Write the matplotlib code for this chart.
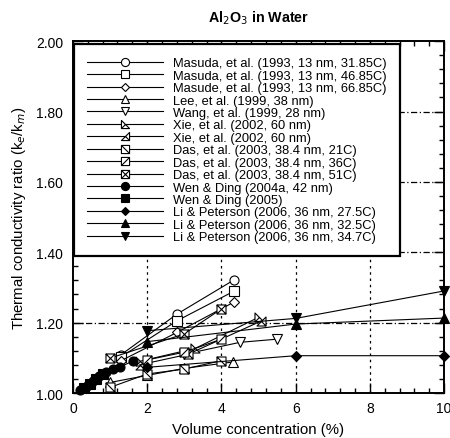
import matplotlib
matplotlib.use("Agg")
import matplotlib.pyplot as plt
from matplotlib.path import Path
from matplotlib.ticker import MultipleLocator, FormatStrFormatter

plt.rcParams['font.family'] = ['Liberation Sans', 'DejaVu Sans']

# data: volume concentration (%) -> k_e/k_m
#
masuda_x = [1.3, 2.8, 4.35]
masuda_32_y = [1.109, 1.224, 1.322]
masuda_47_y = [1.103, 1.205, 1.290]
masuda_67_y = [1.092, 1.172, 1.259]

lee_x = [1.0, 2.0, 3.0, 4.3]
lee_y = [1.030, 1.050, 1.070, 1.088]

wang_x = [3.0, 4.5, 5.5]
wang_y = [1.110, 1.144, 1.153]

xie1_x = [1.8, 3.3, 5.0]
xie1_y = [1.090, 1.127, 1.215]
xie2_x = [1.8, 3.1, 5.08]
xie2_y = [1.080, 1.110, 1.205]

das21_x = [1.0, 2.0, 3.0, 4.0]
das21_y = [1.016, 1.054, 1.068, 1.092]
das36_x = [2.0, 3.0, 4.0]
das36_y = [1.094, 1.116, 1.153]
das51_x = [1.0, 3.0, 4.0]
das51_y = [1.099, 1.168, 1.239]

wen04_x = [0.19, 0.38, 0.54, 0.70, 0.89, 1.08, 1.27, 1.62]
wen04_y = [1.009, 1.020, 1.034, 1.048, 1.060, 1.068, 1.074, 1.091]
wen05_x = [0.30, 0.46, 0.62, 0.80]
wen05_y = [1.013, 1.027, 1.041, 1.054]

li_x = [2.0, 6.0, 10.0]
li_275_y = [1.073, 1.106, 1.106]
li_325_y = [1.146, 1.196, 1.213]
li_347_y = [1.177, 1.212, 1.290]

# custom markers
#
def box_marker(*diagonals):
  verts = [(-1, -1), (1, -1), (1, 1), (-1, 1), (-1, -1)]
  codes = [Path.MOVETO, Path.LINETO, Path.LINETO, Path.LINETO, Path.CLOSEPOLY]
  for a, b in diagonals:
    verts += [a, b]
    codes += [Path.MOVETO, Path.LINETO]
  return Path(verts, codes)

def half_tri(flip):
  s = -1 if flip else 1
  verts = [(-s, -1), (s, -1), (-s, 1), (-s, -1), (-s, -1), (0, 0)]
  codes = [Path.MOVETO, Path.LINETO, Path.LINETO, Path.CLOSEPOLY,
           Path.MOVETO, Path.LINETO]
  return Path(verts, codes)

box_diag1 = box_marker(((-1, 1), (1, -1)))
box_diag2 = box_marker(((-1, -1), (1, 1)))
box_cross = box_marker(((-1, 1), (1, -1)), ((-1, -1), (1, 1)))

series = [
  (masuda_x, masuda_32_y, "o", "white", "Masuda, et al. (1993, 13 nm, 31.85C)"),
  (masuda_x, masuda_47_y, "s", "white", "Masuda, et al. (1993, 13 nm, 46.85C)"),
  (masuda_x, masuda_67_y, "D", "white", "Masude, et al. (1993, 13 nm, 66.85C)"),
  (lee_x, lee_y, "^", "white", "Lee, et al. (1999, 38 nm)"),
  (wang_x, wang_y, "v", "white", "Wang, et al. (1999, 28 nm)"),
  (xie1_x, xie1_y, half_tri(False), "white", "Xie, et al. (2002, 60 nm)"),
  (xie2_x, xie2_y, half_tri(True), "white", "Xie, et al. (2002, 60 nm)"),
  (das21_x, das21_y, box_diag1, "white", "Das, et al. (2003, 38.4 nm, 21C)"),
  (das36_x, das36_y, box_diag2, "white", "Das, et al. (2003, 38.4 nm, 36C)"),
  (das51_x, das51_y, box_cross, "white", "Das, et al. (2003, 38.4 nm, 51C)"),
  (wen04_x, wen04_y, "o", "black", "Wen & Ding (2004a, 42 nm)"),
  (wen05_x, wen05_y, "s", "black", "Wen & Ding (2005)"),
  (li_x, li_275_y, "D", "black", "Li & Peterson (2006, 36 nm, 27.5C)"),
  (li_x, li_325_y, "^", "black", "Li & Peterson (2006, 36 nm, 32.5C)"),
  (li_x, li_347_y, "v", "black", "Li & Peterson (2006, 36 nm, 34.7C)"),
]

fig = plt.figure(figsize=(4.5, 4.39), dpi=100)
ax = fig.add_axes([0.162, 0.1025, 0.825, 0.8015])

# grid lines
#
for gx in [2, 4, 6, 8]:
  ax.axvline(gx, color="black", linewidth=0.9, linestyle=(0, (2, 3)), zorder=1)
for gy in [1.2, 1.4, 1.6, 1.8]:
  ax.axhline(gy, color="black", linewidth=0.9, linestyle=(0, (5, 2, 1, 2)), zorder=1)

for x, y, marker, face, label in series:
  small = marker in ("D",)
  ax.plot(x, y, color="black", linewidth=0.8,
    marker=marker,
    markersize=5 if small else 6.5,
    markerfacecolor=face,
    markeredgecolor="black",
    markeredgewidth=0.8,
    label=label,
    clip_on=False,
    zorder=3)

ax.set_xlim(0, 10)
ax.set_ylim(1.0, 2.0)
ax.xaxis.set_major_locator(MultipleLocator(2))
ax.xaxis.set_minor_locator(MultipleLocator(0.4))
ax.yaxis.set_major_locator(MultipleLocator(0.2))
ax.yaxis.set_minor_locator(MultipleLocator(0.04))
ax.yaxis.set_major_formatter(FormatStrFormatter("%.2f"))
ax.tick_params(which="both", direction="in", top=True, right=True,
  labelsize=10, width=1)
ax.tick_params(which="major", length=7.5)
ax.tick_params(which="minor", length=3.5)
ax.tick_params(axis="x", which="major", pad=6)
ax.tick_params(axis="y", which="major", pad=7)
for sp in ax.spines.values():
  sp.set_linewidth(1.4)

ax.set_title("Al$_2$O$_3$ in Water", fontsize=10.3, fontweight="bold", pad=14)
ax.set_xlabel("Volume concentration (%)", fontsize=10.8, labelpad=5)
ax.set_ylabel("Thermal conductivity ratio (k$_e$/k$_m$)", fontsize=10.8, labelpad=6)

leg = ax.legend(loc="upper left", bbox_to_anchor=(0.003, 0.991),
  fontsize=9.3,
  handlelength=5.9,
  handletextpad=0.8,
  labelspacing=0.03,
  borderpad=1.0,
  borderaxespad=0,
  markerscale=0.9,
  fancybox=False,
  framealpha=1,
  edgecolor="black")
leg.get_frame().set_linewidth(1.6)

plt.savefig("out.png", dpi=100)
